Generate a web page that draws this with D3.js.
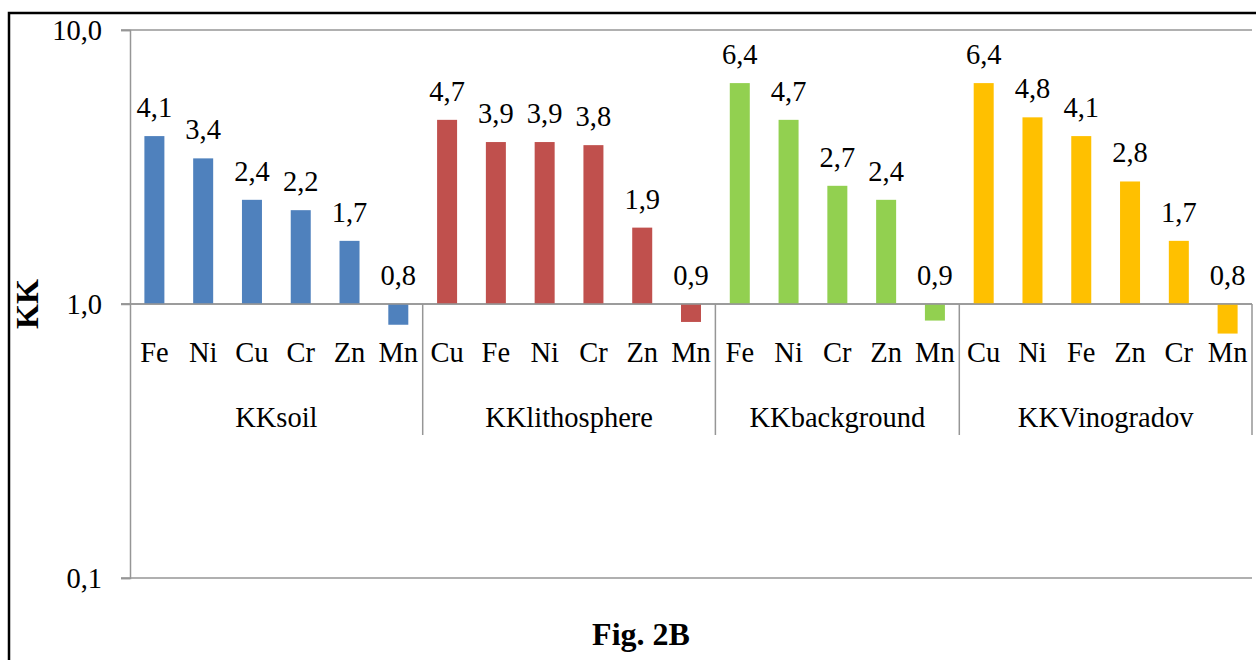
<!DOCTYPE html>
<html>
<head>
<meta charset="utf-8">
<script src="https://cdn.jsdelivr.net/npm/d3@7"></script>
<style>
  body { margin: 0; background: #fff; }
  svg text { font-family: "Liberation Serif", "Times New Roman", serif; }
</style>
</head>
<body>
<div id="my_dataviz"></div>
<script>
// Groups and their elements (in drawing order)
var groups = ["KKsoil", "KKlithosphere", "KKbackground", "KKVinogradov"];
var groupColors = ["#4F81BD", "#C0504D", "#92D050", "#FFC000"];
var soilElems = ["Fe", "Ni", "Cu", "Cr", "Zn", "Mn"];
var soilValues = [4.1, 3.4, 2.4, 2.2, 1.7, 0.84];
var lithoElems = ["Cu", "Fe", "Ni", "Cr", "Zn", "Mn"];
var lithoValues = [4.7, 3.9, 3.9, 3.8, 1.9, 0.86];
var backElems = ["Fe", "Ni", "Cr", "Zn", "Mn"];
var backValues = [6.4, 4.7, 2.7, 2.4, 0.87];
var vinoElems = ["Cu", "Ni", "Fe", "Zn", "Cr", "Mn"];
var vinoValues = [6.4, 4.8, 4.1, 2.8, 1.7, 0.78];
var yTicks = [0.1, 1, 10];

var elemLists = [soilElems, lithoElems, backElems, vinoElems];
var valueLists = [soilValues, lithoValues, backValues, vinoValues];

// flatten into one row per bar
var data = [];
elemLists.forEach(function(list, g) {
    list.forEach(function(el, i) {
        data.push({ key: g + ":" + el, group: g, elem: el, value: valueLists[g][i] });
    });
});

var W = 1256, H = 660;
var margin = { top: 30, right: 4, bottom: 82, left: 130 },
    width = W - margin.left - margin.right,
    height = H - margin.top - margin.bottom;

var svg0 = d3.select("#my_dataviz")
    .append("svg")
    .attr("width", W)
    .attr("height", H);

// outer frame
svg0.append("rect")
    .attr("x", 9).attr("y", 13)
    .attr("width", W + 10).attr("height", H + 10)
    .attr("fill", "none")
    .attr("stroke", "#000")
    .attr("stroke-width", 2.5);

var svg = svg0.append("g")
    .attr("transform", "translate(" + margin.left + "," + margin.top + ")");

var x = d3.scaleBand()
    .domain(data.map(function(d) { return d.key; }))
    .range([0, width])
    .paddingInner(0.59)
    .paddingOuter(0.295);

var step = x.step();

var y = d3.scaleLog()
    .domain([0.1, 10])
    .range([height, 0]);

var fmt = function(v) { return d3.format(".1f")(v).replace(".", ","); };

// horizontal grid lines at 0.1 and 10 (1.0 is the category axis)
svg.selectAll(".grid")
    .data(yTicks)
    .enter()
    .append("line")
    .attr("x1", -9).attr("x2", width)
    .attr("y1", function(d) { return y(d); })
    .attr("y2", function(d) { return y(d); })
    .attr("stroke", "#969696")
    .attr("stroke-width", 1.5);

// value axis
var yAxis = svg.append("g")
    .call(d3.axisLeft(y).tickValues(yTicks).tickSize(9).tickFormat(fmt));
yAxis.select(".domain").attr("stroke", "#969696").attr("stroke-width", 1.5);
yAxis.selectAll(".tick line").attr("stroke", "#969696").attr("stroke-width", 1.5);
yAxis.selectAll("text")
    .attr("x", -28)
    .style("font-size", "28.5px")
    .style("font-family", "Liberation Serif, serif")
    .attr("fill", "#000");

// bars, anchored at 1.0
svg.selectAll(".bar")
    .data(data)
    .enter()
    .append("rect")
    .attr("x", function(d) { return x(d.key); })
    .attr("width", x.bandwidth())
    .attr("y", function(d) { return Math.min(y(d.value), y(1)); })
    .attr("height", function(d) { return Math.abs(y(d.value) - y(1)); })
    .attr("fill", function(d) { return groupColors[d.group]; });

// value labels
svg.selectAll(".vlabel")
    .data(data)
    .enter()
    .append("text")
    .attr("x", function(d) { return x(d.key) + x.bandwidth() / 2; })
    .attr("y", function(d) { return Math.min(y(d.value), y(1)) - 19; })
    .attr("text-anchor", "middle")
    .style("font-size", "28.5px")
    .text(function(d) { return fmt(d.value); });

// category axis at 1.0
svg.append("line")
    .attr("x1", -9).attr("x2", width)
    .attr("y1", y(1)).attr("y2", y(1))
    .attr("stroke", "#969696")
    .attr("stroke-width", 1.5);

// element labels
svg.selectAll(".elabel")
    .data(data)
    .enter()
    .append("text")
    .attr("x", function(d) { return x(d.key) + x.bandwidth() / 2; })
    .attr("y", y(1) + 58)
    .attr("text-anchor", "middle")
    .style("font-size", "28.5px")
    .text(function(d) { return d.elem; });

// group separators and labels
var bounds = [];
var start = 0;
elemLists.forEach(function(list, g) {
    bounds.push({ g: g, x0: start * step, x1: (start + list.length) * step });
    start += list.length;
});

svg.selectAll(".sep")
    .data(bounds)
    .enter()
    .append("line")
    .attr("x1", function(d) { return d.x1; })
    .attr("x2", function(d) { return d.x1; })
    .attr("y1", y(1))
    .attr("y2", y(1) + 131)
    .attr("stroke", "#969696")
    .attr("stroke-width", 1.5);

svg.selectAll(".glabel")
    .data(bounds)
    .enter()
    .append("text")
    .attr("x", function(d) { return (d.x0 + d.x1) / 2; })
    .attr("y", y(1) + 123)
    .attr("text-anchor", "middle")
    .style("font-size", "28.5px")
    .text(function(d) { return groups[d.g]; });

// axis title
svg0.append("text")
    .attr("transform", "translate(38," + (margin.top + y(1)) + ") rotate(-90)")
    .attr("text-anchor", "middle")
    .style("font-size", "32px")
    .style("font-weight", "bold")
    .text("KK");

// figure caption
svg0.append("text")
    .attr("x", 641)
    .attr("y", 645)
    .attr("text-anchor", "middle")
    .style("font-size", "32px")
    .style("font-weight", "bold")
    .text("Fig. 2B");
</script>
</body>
</html>
